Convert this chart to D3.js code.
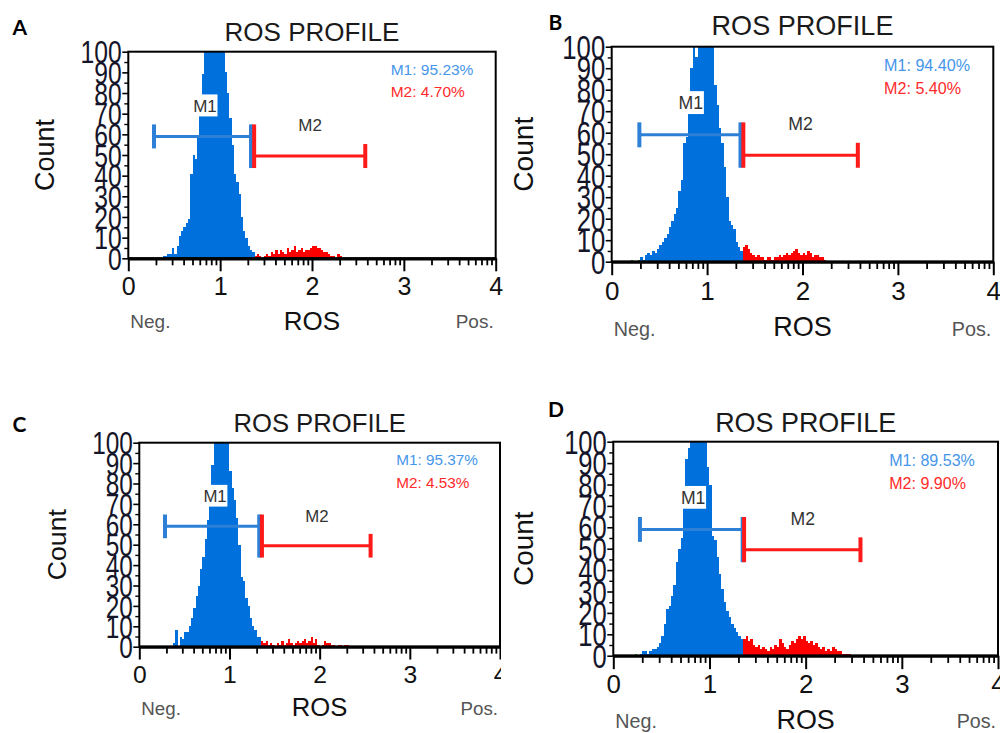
<!DOCTYPE html>
<html>
<head>
<meta charset="utf-8">
<script src="https://cdn.jsdelivr.net/npm/d3@7"></script>
<style>
  body { margin: 0; background: #fff; }
  svg { display: block; font-family: "Liberation Sans", Arial, sans-serif; }
</style>
</head>
<body>
<svg id="fig" width="1000" height="733"></svg>
<script>
// ---- Data -------------------------------------------------------------
// Histogram channels on a log10 (decade) axis: first bin starts at 0.2,
// every bin is 0.025 decade wide. Values are event counts (axis clipped at 100).
const binStart = 0.2;
const binWidth = 0.025;

const countsA = [
  0, 0, 0, 0,
  0, 0, 0, 1, 1, 2, 2, 5, 2, 6,
  11, 13, 15, 17, 19, 41, 50, 48, 58, 70,
  89, 104, 115, 125, 130, 128, 122, 115, 108, 102,
  90, 80, 68, 55, 41, 37, 31, 20, 13, 10,
  6, 4, 3,
  1, 2, 1, 0, 1, 2, 1, 3, 2, 4,
  2, 4, 3, 2, 5, 3, 4, 6, 3, 4,
  5, 3, 4, 4, 5, 6, 6, 5, 5, 4,
  3, 3, 2, 1, 1, 0, 2, 1, 0
];

const countsB = [
  1, 0, 0, 1, 2, 1, 3, 4, 3, 5,
  4, 6, 8, 9, 11, 13, 16, 19, 22, 25,
  33, 38, 55, 58, 75, 90, 108, 95, 125, 130,
  126, 120, 112, 106, 101, 82, 73, 62, 55, 44,
  30, 19, 17, 15, 9, 7, 5, 7, 8, 6,
  4, 3, 2, 3, 2, 2, 1, 2, 2, 1,
  2, 2, 3, 2, 3, 4, 3, 4, 5, 6,
  4, 3, 4, 3, 5, 4, 2, 3, 3, 2,
  2, 1
];

const countsC = [
  0, 0, 0, 0, 0, 0, 0, 2, 8, 0,
  5, 4, 7, 7, 10, 14, 19, 25, 30, 38,
  44, 53, 62, 72, 89, 102, 112, 120, 125, 118,
  112, 104, 86, 78, 72, 63, 50, 34, 32, 24,
  20, 14, 10, 8, 5, 5, 3, 2, 3, 1,
  2, 1, 0, 2, 1, 3, 1, 2, 4, 2,
  1, 2, 3, 2, 3, 4, 2, 3, 5, 2,
  4, 1, 0, 1, 3, 2, 2, 1, 1, 0,
  1, 1, 0, 1, 1, 0
];

const countsD = [
  0, 1, 0, 1, 2, 2, 1, 2, 3, 3,
  4, 6, 9, 15, 22, 23, 28, 33, 44, 50,
  55, 70, 92, 97, 104, 112, 118, 122, 115, 106,
  104, 88, 80, 56, 54, 46, 38, 31, 25, 21,
  18, 15, 13, 11, 9, 8, 8, 9, 7, 8,
  5, 4, 5, 3, 4, 3, 2, 4, 3, 5,
  4, 8, 6, 4, 3, 5, 7, 6, 8, 9,
  8, 9, 7, 6, 7, 5, 6, 4, 3, 4,
  2, 3, 2, 4, 3, 2, 2, 1, 1, 1,
  1, 0
];

// Marker gates [from, to] in decades
const gateM1 = [[0.28, 1.336], [0.29, 1.35], [0.285, 1.33], [0.277, 1.345]];
const gateM2 = [[1.37, 2.58], [1.38, 2.58], [1.36, 2.565], [1.36, 2.57]];
// Marker bar heights (count units)
const markerLevel = [59, 49.5];

const panelLetters = ["A", "B", "C", "D"];
const pctM1 = ["95.23%", "94.40%", "95.37%", "89.53%"];
const pctM2 = ["4.70%", "5.40%", "4.53%", "9.90%"];

const xTicks = [0, 1, 2, 3, 4];
const yTicks = [0, 10, 20, 30, 40, 50, 60, 70, 80, 90, 100];
const yMinorTicks = [5, 15, 25, 35, 45, 55, 65, 75, 85, 95];

// ---- Styles -----------------------------------------------------------
const BLUE = "#0070dc";
const RED = "#ff0000";
const GREEN = "#1a9a1a";
const MARK_BLUE = "#2d80d6";
const MARK_RED = "#ff1a1a";
const LEG_BLUE = "#4596ea";
const LEG_RED = "#ff2a2a";

// ---- Panel geometry ---------------------------------------------------
const layout = [
  { left: 128.3, right: 495.7, top: 51.7, bottom: 258.3, titleY: 41, letterX: 12.5, letterY: 35,
    countX: 45, rosY: 330, negY: 328, tickY: 37, m1Lab: [0.835, 74], m2Lab: [1.98, 64.5] },
  { left: 611.7, right: 993.3, top: 46.7, bottom: 261.7, titleY: 35, letterX: 548.5, letterY: 30,
    countX: 523.3, rosY: 336, negY: 336, tickY: 38, m1Lab: [0.83, 74], m2Lab: [1.98, 64] },
  { left: 139.3, right: 500, top: 442.7, bottom: 646.7, titleY: 432, letterX: 12.5, letterY: 432,
    countX: 56.7, rosY: 716, negY: 715, tickY: 36, m1Lab: [0.84, 74], m2Lab: [1.97, 64], clipRight: 501 },
  { left: 613.3, right: 998, top: 441.7, bottom: 655.7, titleY: 431.5, letterX: 548, letterY: 417,
    countX: 523, rosY: 729, negY: 728, tickY: 37, m1Lab: [0.83, 74], m2Lab: [1.97, 64] }
];
const countSets = [countsA, countsB, countsC, countsD];

const svg = d3.select("#fig");
svg.append("rect").attr("width", 1000).attr("height", 733).attr("fill", "#fff");
const defs = svg.append("defs");
const FONT = "Liberation Sans, Arial, sans-serif";

// minor ticks at log positions inside each decade
const minorTicks = [];
for (let d = 0; d < 4; d++) for (let m = 2; m <= 9; m++) minorTicks.push(d + Math.log10(m));

layout.forEach((L, i) => {
  const k = (L.bottom - L.top) / 206.6;
  const g = svg.append("g");
  if (L.clipRight) {
    defs.append("clipPath").attr("id", "panelClip" + i)
      .append("rect").attr("x", 0).attr("y", 0).attr("width", L.clipRight).attr("height", 733);
    g.attr("clip-path", `url(#panelClip${i})`);
  }

  const x = d3.scaleLinear().domain([0, 4]).range([L.left, L.right]);
  const y = d3.scaleLinear().domain([0, 100]).range([L.bottom, L.top]);

  // panel letter
  svg.append("text").attr("x", L.letterX).attr("y", L.letterY)
    .attr("font-family", "Lato, 'Open Sans', sans-serif").attr("font-weight", 700)
    .attr("font-size", 21).attr("fill", "#000").text(panelLetters[i]);

  // title
  g.append("text").attr("x", (L.left + L.right) / 2).attr("y", L.titleY)
    .attr("text-anchor", "middle").attr("font-size", 26 * k).attr("fill", "#1a1a1a")
    .text("ROS PROFILE");

  // histogram
  defs.append("clipPath").attr("id", "plotClip" + i).append("rect")
    .attr("x", L.left).attr("y", L.top).attr("width", L.right - L.left).attr("height", L.bottom - L.top);
  const m1 = gateM1[i], m2 = gateM2[i];
  const bins = countSets[i].map((c, j) => ({ x0: binStart + j * binWidth, x1: binStart + (j + 1) * binWidth, c }));
  const colorOf = b => {
    const mid = (b.x0 + b.x1) / 2;
    return mid < m1[0] ? GREEN : (mid >= m2[0] ? RED : BLUE);
  };
  g.append("g").attr("clip-path", `url(#plotClip${i})`)
    .selectAll("rect").data(bins.filter(b => b.c > 0)).join("rect")
    .attr("x", b => x(b.x0)).attr("width", b => x(b.x1) - x(b.x0))
    .attr("y", b => y(b.c)).attr("height", b => y(0) - y(b.c))
    .attr("fill", colorOf).attr("shape-rendering", "crispEdges");

  // frame
  g.append("rect").attr("x", L.left).attr("y", L.top)
    .attr("width", L.right - L.left).attr("height", L.bottom - L.top)
    .attr("fill", "none").attr("stroke", "#000").attr("stroke-width", 2);

  // x axis: decades with log minor ticks
  const xAxis = g.append("g").attr("transform", `translate(0,${L.bottom})`)
    .call(d3.axisBottom(x).tickValues(xTicks).tickSize(13 * k).tickSizeOuter(0).tickFormat(d3.format("d")));
  xAxis.attr("font-family", FONT).attr("font-size", 25 * k);
  xAxis.select(".domain").attr("stroke", "#000").attr("stroke-width", 3.2);
  xAxis.selectAll(".tick line").attr("stroke", "#000").attr("stroke-width", 2);
  xAxis.selectAll(".tick text").attr("y", L.tickY).attr("dy", null).attr("fill", "#111");
  const xMinor = g.append("g").attr("transform", `translate(0,${L.bottom})`)
    .call(d3.axisBottom(x).tickValues(minorTicks).tickSize(7 * k).tickFormat(""));
  xMinor.select(".domain").remove();
  xMinor.selectAll(".tick line").attr("stroke", "#000").attr("stroke-width", 1.8);

  // y axis: crowded, tall labels every 10, minor ticks every 5
  const yMinor = g.append("g").attr("transform", `translate(${L.left},0)`)
    .call(d3.axisLeft(y).tickValues(yMinorTicks).tickSize(4).tickFormat(""));
  yMinor.select(".domain").remove();
  yMinor.selectAll(".tick line").attr("stroke", "#000").attr("stroke-width", 1.4);
  const yAxis = g.append("g").attr("transform", `translate(${L.left},0)`)
    .call(d3.axisLeft(y).tickValues(yTicks).tickSize(6).tickPadding(0.5).tickSizeOuter(0));
  yAxis.attr("font-family", FONT).attr("font-size", 26 * k);
  yAxis.select(".domain").remove();
  yAxis.selectAll(".tick line").attr("stroke", "#000").attr("stroke-width", 1.6);
  const sx = 0.95, sy = 1.2;
  yAxis.selectAll(".tick text").attr("fill", "#15152a").attr("dy", "0.36em")
    .attr("transform", `scale(${sx},${sy})`).attr("x", -6.5 / sx);

  // axis titles
  g.append("text").attr("transform", `translate(${L.countX},${(L.top + L.bottom) / 2}) rotate(-90)`)
    .attr("text-anchor", "middle").attr("dy", "0.35em").attr("font-size", 27 * k).attr("fill", "#111")
    .text("Count");
  g.append("text").attr("x", (L.left + L.right) / 2).attr("y", L.rosY)
    .attr("text-anchor", "middle").attr("font-size", 26 * k).attr("fill", "#111").text("ROS");
  g.append("text").attr("x", L.left + 2).attr("y", L.negY)
    .attr("font-size", 19 * k).attr("fill", "#555").text("Neg.");
  g.append("text").attr("x", L.right - 2).attr("y", L.negY).attr("text-anchor", "end")
    .attr("font-size", 19 * k).attr("fill", "#555").text("Pos.");

  // marker bars
  const yM1 = y(markerLevel[0]), yM2 = y(markerLevel[1]);
  const cap = 12 * k;
  const mk = g.append("g").attr("fill", "none");
  mk.append("line").attr("x1", x(m1[0])).attr("x2", x(m1[1])).attr("y1", yM1).attr("y2", yM1)
    .attr("stroke", MARK_BLUE).attr("stroke-width", 3);
  mk.append("line").attr("x1", x(m1[0])).attr("x2", x(m1[0])).attr("y1", yM1 - cap).attr("y2", yM1 + cap)
    .attr("stroke", MARK_BLUE).attr("stroke-width", 4);
  mk.append("line").attr("x1", x(m1[1])).attr("x2", x(m1[1])).attr("y1", yM1 - cap).attr("y2", yM2 + cap)
    .attr("stroke", MARK_BLUE).attr("stroke-width", 4);
  mk.append("line").attr("x1", x(m2[0])).attr("x2", x(m2[1])).attr("y1", yM2).attr("y2", yM2)
    .attr("stroke", MARK_RED).attr("stroke-width", 3);
  mk.append("line").attr("x1", x(m2[0])).attr("x2", x(m2[0])).attr("y1", yM1 - cap).attr("y2", yM2 + cap)
    .attr("stroke", MARK_RED).attr("stroke-width", 4);
  mk.append("line").attr("x1", x(m2[1])).attr("x2", x(m2[1])).attr("y1", yM2 - cap).attr("y2", yM2 + cap)
    .attr("stroke", MARK_RED).attr("stroke-width", 4);

  // marker name tags
  [["M1", L.m1Lab], ["M2", L.m2Lab]].forEach(([name, pos]) => {
    const fs = 17 * k;
    const w = 25 * k, h = 22 * k;
    const cx = x(pos[0]), cy = y(pos[1]);
    g.append("rect").attr("x", cx - w / 2).attr("y", cy - h / 2).attr("width", w).attr("height", h).attr("fill", "#fff");
    g.append("text").attr("x", cx).attr("y", cy).attr("dy", "0.36em").attr("text-anchor", "middle")
      .attr("font-size", fs).attr("fill", "#333").text(name);
  });

  // gate percentages
  const lx = L.right - 105 * k;
  g.append("text").attr("x", lx).attr("y", L.top + 17.5 * k).attr("dy", "0.36em")
    .attr("font-size", 15.5 * k).attr("fill", LEG_BLUE).text("M1: " + pctM1[i]);
  g.append("text").attr("x", lx).attr("y", L.top + 40 * k).attr("dy", "0.36em")
    .attr("font-size", 15.5 * k).attr("fill", LEG_RED).text("M2: " + pctM2[i]);
});
</script>
</body>
</html>
